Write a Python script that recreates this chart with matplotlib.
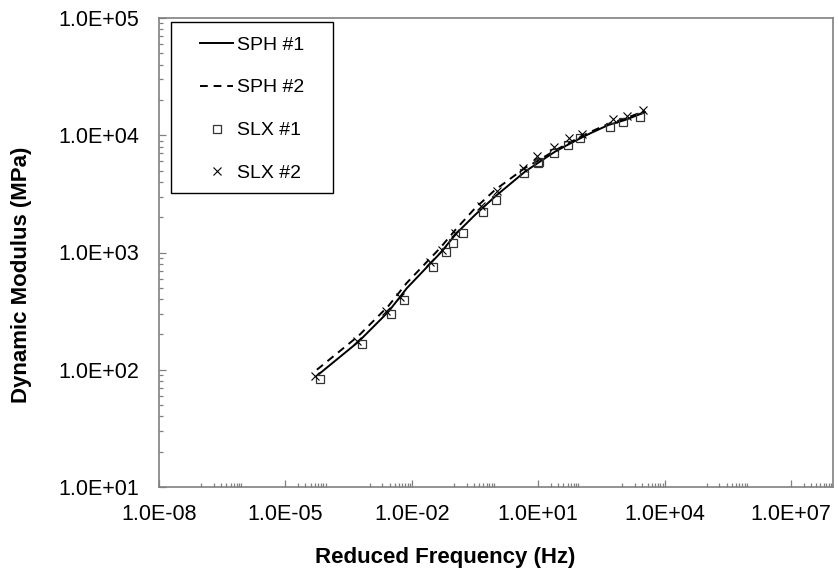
import matplotlib
matplotlib.use("Agg")
import matplotlib.pyplot as plt
from matplotlib.patches import Rectangle
from matplotlib.ticker import FixedLocator, FuncFormatter, LogLocator, NullFormatter

plt.rcParams['font.family'] = ['Liberation Sans', 'DejaVu Sans']

# master curves
sph1_freq = [6.3e-5, 5.4e-4, 2.8e-3, 7.6e-3, 4.7e-2, 0.116, 0.317, 0.944, 4.86, 10.1, 25.1, 62.5, 160, 462, 1151, 3436]
sph1_mod = [92, 173, 313, 495, 984, 1459, 2089, 2995, 4887, 5834, 7240, 8640, 10250, 12220, 13490, 15700]

sph2_freq = [5.6e-5, 5.4e-4, 2.8e-3, 7.6e-3, 4.7e-2, 0.116, 0.317, 0.944, 4.86, 10.1, 25.1, 62.5, 160, 462, 1151, 3436]
sph2_mod = [100, 194, 350, 550, 1091, 1603, 2383, 3412, 5260, 6095, 7413, 8846, 10540, 12480, 13900, 16100]

# measured points
slx1_freq = [6.6e-5, 6.7e-4, 3.2e-3, 6.4e-3, 3.24e-2, 6.5e-2, 9.7e-2, 0.162, 0.50, 0.98, 4.69, 9.75, 10.3, 24.2, 50.2, 98.4, 507, 1050, 2610]
slx1_mod = [83, 166, 297, 394, 757, 1016, 1198, 1458, 2229, 2805, 4745, 5770, 5900, 7020, 8260, 9420, 11830, 13060, 14400]

slx2_freq = [5.0e-5, 4.9e-4, 2.4e-3, 5.3e-3, 2.7e-2, 5.1e-2, 0.106, 0.44, 1.04, 4.44, 9.2, 24.2, 54, 112, 607, 1262, 3126]
slx2_mod = [88, 177, 317, 420, 836, 1049, 1458, 2494, 3365, 5225, 6650, 7980, 9420, 10260, 13770, 14600, 16400]

x_major = [1e-8, 1e-5, 1e-2, 1e1, 1e4, 1e7]

fig = plt.figure(figsize=(8.38, 5.75), dpi=100)
ax = fig.add_axes([159/838, 88/575, 674/838, 469/575])

ax.plot(sph1_freq, sph1_mod, color='black', lw=1.4, label='SPH #1')
ax.plot(sph2_freq, sph2_mod, color='black', lw=1.4, dashes=(4, 3), label='SPH #2')
ax.plot(slx1_freq, slx1_mod, ls='none', marker='s', ms=6, mfc='none', mec='#333333', mew=0.9, label='SLX #1')
ax.plot(slx2_freq, slx2_mod, ls='none', marker='x', ms=5.5, mec='black', mew=0.8, label='SLX #2')

ax.set_xscale('log')
ax.set_yscale('log')
ax.set_xlim(1e-8, 1e8)
ax.set_ylim(1e1, 1e5)

ax.xaxis.set_major_locator(FixedLocator(x_major))
ax.xaxis.set_minor_locator(FixedLocator([k * 10.0**n for n in range(-7, 8, 2) for k in range(1, 10)]))
ax.yaxis.set_major_locator(LogLocator(base=10, numticks=10))
ax.yaxis.set_minor_locator(LogLocator(base=10, subs=range(2, 10), numticks=20))
fmt = FuncFormatter(lambda v, p: f"{v:.1E}")
ax.xaxis.set_major_formatter(fmt)
ax.yaxis.set_major_formatter(fmt)
ax.xaxis.set_minor_formatter(NullFormatter())
ax.yaxis.set_minor_formatter(NullFormatter())

for s in ax.spines.values():
    s.set_color('#808080')
    s.set_linewidth(1.2)
ax.tick_params(which='both', direction='in', color='#808080', width=0.9, labelsize=15.5)
ax.tick_params(which='major', length=5)
ax.tick_params(which='minor', length=3)
ax.tick_params(axis='x', which='major', pad=12.5)
ax.tick_params(axis='y', which='major', pad=14)
ax.tick_params(top=False, right=False)

fig.text(445/838, 1 - 563/575, 'Reduced Frequency (Hz)', ha='center', va='baseline',
         fontsize=16, fontweight='bold')
fig.text(22/838, 1 - 275/575, 'Dynamic Modulus (MPa)', ha='center', va='center',
         rotation=90, fontsize=16, fontweight='bold')

# legend frame drawn separately (Excel-style wide box)
ax.add_patch(Rectangle((12/674, 294/469), 162/674, 171/469, transform=ax.transAxes,
                       facecolor='white', edgecolor='black', lw=1.0, zorder=4))
leg = ax.legend(loc='upper left', bbox_to_anchor=(41/674, 1 - 18/469), borderaxespad=0,
                fontsize=14, handlelength=1.7, handletextpad=0.2, labelspacing=1.3,
                borderpad=0, frameon=False)
leg.set_zorder(5)

fig.savefig('out.png', dpi=100)
